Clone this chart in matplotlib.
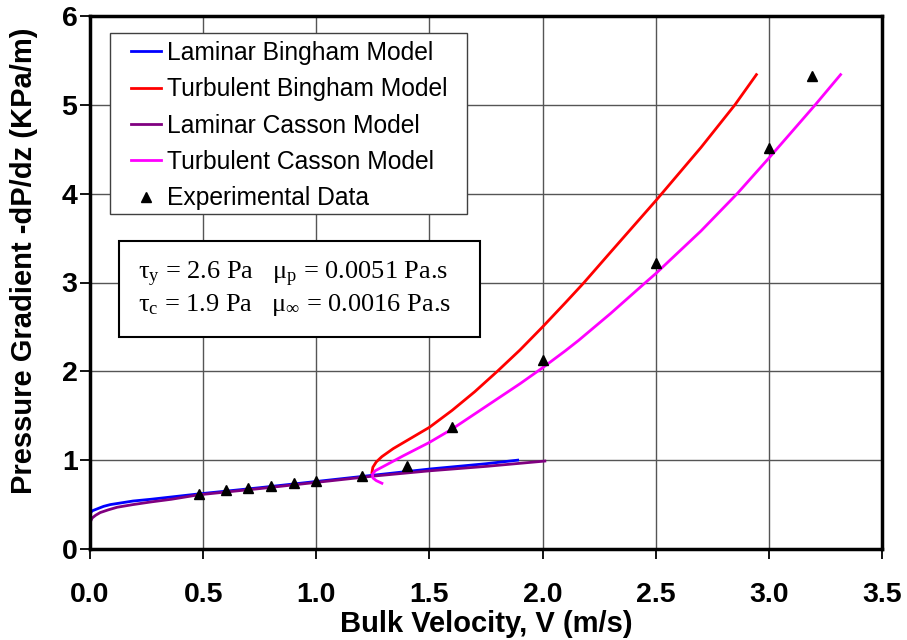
import matplotlib.pyplot as plt
from matplotlib.patches import Rectangle

plt.rcParams['font.family'] = ['Liberation Sans', 'DejaVu Sans']
plt.rcParams['mathtext.fontset'] = 'custom'
plt.rcParams['mathtext.rm'] = 'Liberation Serif'
plt.rcParams['mathtext.it'] = 'Liberation Serif'

# laminar Bingham model
lb_v = [0.0, 0.01, 0.03, 0.06, 0.09, 0.14, 0.19, 0.27, 0.34, 0.48, 0.75, 1.0, 1.25, 1.5, 1.75, 1.89]
lb_p = [0.40, 0.43, 0.45, 0.48, 0.50, 0.52, 0.54, 0.56, 0.58, 0.62, 0.69, 0.76, 0.83, 0.90, 0.96, 1.0]

# laminar Casson model
lc_v = [0.0, 0.004, 0.01, 0.025, 0.045, 0.08, 0.12, 0.19, 0.27, 0.36, 0.48, 0.75, 1.0, 1.25, 1.5, 1.75, 2.01]
lc_p = [0.29, 0.32, 0.35, 0.38, 0.41, 0.44, 0.47, 0.50, 0.53, 0.56, 0.61, 0.68, 0.75, 0.82, 0.88, 0.93, 0.99]

# turbulent Bingham model
tb_v = [1.246, 1.25, 1.265, 1.29, 1.34, 1.4, 1.5, 1.6, 1.7, 1.8, 1.9, 2.0,
        2.1, 2.18, 2.3, 2.5, 2.7, 2.85, 2.945]
tb_p = [0.86, 0.92, 0.98, 1.04, 1.13, 1.22, 1.37, 1.56, 1.77, 2.0, 2.24, 2.5,
        2.77, 2.99, 3.34, 3.92, 4.52, 5.0, 5.34]

# turbulent Casson model
tc_v = [1.29, 1.265, 1.25, 1.248, 1.26, 1.297, 1.385, 1.5, 1.6, 1.7, 1.8, 1.9, 2.0,
        2.1, 2.16, 2.3, 2.455, 2.5, 2.7, 2.86, 3.0, 3.205, 3.317]
tc_p = [0.74, 0.77, 0.80, 0.84, 0.88, 0.93, 1.05, 1.20, 1.35, 1.52, 1.69, 1.86, 2.04,
        2.23, 2.35, 2.65, 3.0, 3.1, 3.58, 4.0, 4.40, 5.0, 5.34]

# experimental data
ex_v = [0.48, 0.6, 0.7, 0.8, 0.9, 1.0, 1.2, 1.4, 1.6, 2.0, 2.5, 3.0, 3.19]
ex_p = [0.62, 0.66, 0.69, 0.71, 0.74, 0.76, 0.82, 0.93, 1.37, 2.13, 3.22, 4.51, 5.33]

W, H = 907, 640
fig = plt.figure(figsize=(W / 100, H / 100), dpi=100)
ax = fig.add_axes([90 / W, 1 - 549 / H, 792 / W, 533 / H])

ax.plot(lb_v, lb_p, color='#0000ff', lw=2, label='Laminar Bingham Model')
ax.plot(tb_v, tb_p, color='#ff0000', lw=2, label='Turbulent Bingham Model')
ax.plot(lc_v, lc_p, color='#800080', lw=2, label='Laminar Casson Model')
ax.plot(tc_v, tc_p, color='#ff00ff', lw=2, label='Turbulent Casson Model')
ax.plot(ex_v, ex_p, 'k^', ms=7, ls='none', label='Experimental Data')

ax.set_xlim(0, 3.5)
ax.set_ylim(0, 6)
ax.set_xticks([0, 0.5, 1, 1.5, 2, 2.5, 3, 3.5])
ax.set_xticklabels(['0.0', '0.5', '1.0', '1.5', '2.0', '2.5', '3.0', '3.5'])
ax.set_yticks(range(0, 7))
ax.grid(True, color='#555555', lw=1)
ax.set_axisbelow(True)
for s in ax.spines.values():
    s.set_linewidth(2.5)
ax.tick_params(direction='out', length=7, width=1.3, labelsize=20.5)
ax.tick_params(axis='x', pad=17)
ax.tick_params(axis='y', pad=2)
for t in ax.get_xticklabels() + ax.get_yticklabels():
    t.set_fontweight('bold')

ax.set_xlabel('Bulk Velocity, V (m/s)', fontsize=21, fontweight='bold', labelpad=1)
ax.set_ylabel('Pressure Gradient -dP/dz (KPa/m)', fontsize=21, fontweight='bold')
ax.yaxis.set_label_coords((38 - 90) / 792, (549 - 261) / 533)

# legend box
ax.add_patch(Rectangle((110 / W, 1 - 214 / H), 357 / W, 181 / H,
                       transform=fig.transFigure, fc='white', ec='#404040',
                       lw=1, zorder=3, clip_on=False))
leg = ax.legend(loc='upper left', bbox_to_anchor=(131 / W, 1 - 41 / H),
                bbox_transform=fig.transFigure, fontsize=17.7, frameon=False,
                handlelength=1.2, handletextpad=0.25, labelspacing=0.5,
                borderpad=0, borderaxespad=0)
leg.set_zorder(4)

# parameter box
ax.add_patch(Rectangle((119 / W, 1 - 337 / H), 361 / W, 96 / H,
                       transform=fig.transFigure, fc='white', ec='black',
                       lw=1.5, zorder=3, clip_on=False))
ax.text((138 - 90) / 792, (549 - 289) / 533,
        'τ$_\\mathrm{y}$ = 2.6 Pa   μ$_\\mathrm{p}$ = 0.0051 Pa.s\n'
        'τ$_\\mathrm{c}$ = 1.9 Pa   μ$_\\infty$ = 0.0016 Pa.s',
        transform=ax.transAxes, family='Liberation Serif', fontsize=19,
        va='center', ha='left', linespacing=1.17, zorder=5)

fig.savefig('out.png', dpi=100)
